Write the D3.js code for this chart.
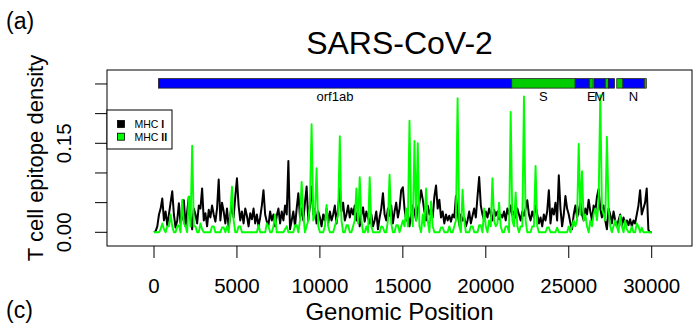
<!DOCTYPE html>
<html>
<head>
<meta charset="utf-8">
<script src="https://cdn.jsdelivr.net/npm/d3@7"></script>
<style>
  body { margin: 0; background: #fff; }
  text { font-family: "Liberation Sans", Arial, sans-serif; fill: #000; }
</style>
</head>
<body>
<div id="chart"></div>
<script>
// window start positions along the genome (bp)
const windowPos = d3.range(0, 30001, 100);

// MHC I epitope density, one value per 100 bp window
const mhc1 = [
  0.000, 0.002, 0.010, 0.030, 0.040, 0.057, 0.020, 0.035, 0.012, 0.030,
  0.050, 0.069, 0.030, 0.008, 0.020, 0.049, 0.015, 0.025, 0.054, 0.010,
  0.035, 0.060, 0.025, 0.005, 0.040, 0.030, 0.015, 0.045, 0.040, 0.074,
  0.020, 0.032, 0.010, 0.038, 0.025, 0.045, 0.030, 0.018, 0.040, 0.089,
  0.020, 0.050, 0.035, 0.015, 0.040, 0.008, 0.030, 0.045, 0.025, 0.060,
  0.091, 0.045, 0.020, 0.035, 0.015, 0.040, 0.028, 0.010, 0.032, 0.022,
  0.040, 0.015, 0.030, 0.010, 0.025, 0.045, 0.071, 0.030, 0.018, 0.012,
  0.035, 0.020, 0.030, 0.010, 0.028, 0.040, 0.015, 0.035, 0.020, 0.045,
  0.030, 0.120, 0.005, 0.020, 0.035, 0.010, 0.040, 0.066, 0.025, 0.040,
  0.020, 0.050, 0.077, 0.020, 0.045, 0.077, 0.030, 0.040, 0.015, 0.035,
  0.025, 0.010, 0.030, 0.020, 0.040, 0.015, 0.035, 0.020, 0.030, 0.045,
  0.015, 0.040, 0.074, 0.035, 0.050, 0.020, 0.030, 0.045, 0.025, 0.040,
  0.030, 0.045, 0.020, 0.035, 0.010, 0.030, 0.042, 0.018, 0.035, 0.025,
  0.015, 0.030, 0.010, 0.020, 0.035, 0.005, 0.025, 0.040, 0.066, 0.030,
  0.020, 0.040, 0.028, 0.045, 0.015, 0.035, 0.050, 0.025, 0.040, 0.071,
  0.076, 0.040, 0.020, 0.030, 0.010, 0.030, 0.045, 0.035, 0.020, 0.040,
  0.050, 0.071, 0.055, 0.035, 0.020, 0.045, 0.030, 0.040, 0.025, 0.060,
  0.079, 0.040, 0.055, 0.025, 0.035, 0.015, 0.030, 0.020, 0.028, 0.018,
  0.030, 0.025, 0.061, 0.035, 0.012, 0.030, 0.020, 0.025, 0.010, 0.020,
  0.035, 0.015, 0.028, 0.040, 0.025, 0.060, 0.093, 0.045, 0.030, 0.020,
  0.035, 0.025, 0.040, 0.030, 0.020, 0.038, 0.028, 0.035, 0.022, 0.030,
  0.025, 0.035, 0.020, 0.040, 0.030, 0.045, 0.028, 0.035, 0.025, 0.040,
  0.030, 0.020, 0.035, 0.028, 0.040, 0.054, 0.030, 0.020, 0.035, 0.025,
  0.045, 0.030, 0.015, 0.025, 0.010, 0.030, 0.020, 0.035, 0.071, 0.015,
  0.040, 0.030, 0.050, 0.020, 0.096, 0.040, 0.010, 0.030, 0.061, 0.040,
  0.030, 0.015, 0.005, 0.030, 0.045, 0.025, 0.035, 0.050, 0.030, 0.020,
  0.040, 0.030, 0.055, 0.035, 0.020, 0.045, 0.035, 0.060, 0.073, 0.040,
  0.025, 0.045, 0.020, 0.005, 0.040, 0.030, 0.015, 0.035, 0.020, 0.010,
  0.020, 0.030, 0.010, 0.025, 0.015, 0.020, 0.012, 0.022, 0.010, 0.020,
  0.015, 0.030, 0.045, 0.071, 0.030, 0.040, 0.050, 0.074, 0.004, 0.000,
  0.000
];

// MHC II epitope density, same windows
const mhc2 = [
  0, 0, 0, 0, 0.005, 0.015, 0.005, 0, 0.010, 0.010,
  0.030, 0.010, 0, 0, 0.010, 0.012, 0, 0.055, 0.015, 0.010,
  0, 0.060, 0.010, 0.146, 0.010, 0.010, 0, 0, 0.015, 0.005,
  0, 0, 0, 0, 0, 0.010, 0.010, 0, 0, 0,
  0, 0.008, 0.008, 0, 0.010, 0, 0.030, 0.077, 0.020, 0,
  0, 0.010, 0.010, 0, 0, 0, 0, 0, 0, 0,
  0, 0, 0, 0.012, 0, 0, 0, 0, 0.015, 0.010,
  0, 0, 0.010, 0.030, 0, 0, 0, 0, 0, 0.005,
  0.010, 0, 0, 0, 0, 0.012, 0.012, 0, 0.020, 0.085,
  0.030, 0, 0.010, 0.020, 0.050, 0.182, 0.020, 0.030, 0.108, 0.010,
  0, 0, 0, 0.010, 0.046, 0.010, 0, 0, 0, 0.010,
  0.020, 0.030, 0.162, 0.020, 0, 0, 0.012, 0.012, 0, 0,
  0.010, 0.020, 0.074, 0.015, 0.093, 0.020, 0, 0, 0.010, 0,
  0.093, 0.010, 0, 0, 0, 0, 0, 0.010, 0.008, 0,
  0, 0.020, 0.097, 0.015, 0, 0, 0.012, 0.012, 0, 0.010,
  0.020, 0.010, 0.040, 0.010, 0.188, 0.030, 0.010, 0.154, 0.020, 0.150,
  0.010, 0, 0.030, 0.010, 0.074, 0.020, 0, 0.052, 0.010, 0,
  0, 0, 0, 0.008, 0.008, 0, 0, 0, 0.010, 0,
  0, 0.010, 0.020, 0.226, 0.010, 0, 0.072, 0.020, 0, 0,
  0, 0.010, 0.010, 0, 0, 0, 0.012, 0.012, 0, 0.040,
  0.010, 0, 0.020, 0.010, 0.091, 0.020, 0.010, 0.015, 0.050, 0.010,
  0, 0, 0.010, 0.010, 0, 0.203, 0.020, 0.010, 0.067, 0.010,
  0, 0.010, 0.010, 0.229, 0.020, 0, 0, 0, 0.010, 0.010,
  0.112, 0.010, 0, 0, 0, 0, 0, 0.008, 0.008, 0,
  0, 0, 0, 0.008, 0, 0, 0, 0, 0, 0,
  0.010, 0, 0.010, 0.020, 0.010, 0.020, 0.149, 0.030, 0.103, 0.020,
  0.030, 0.010, 0, 0.020, 0.010, 0.030, 0.040, 0.020, 0.050, 0.231,
  0.040, 0.030, 0.020, 0.161, 0.040, 0.010, 0, 0.010, 0.020, 0.010,
  0, 0.028, 0.010, 0, 0.020, 0.005, 0, 0, 0.010, 0,
  0, 0.015, 0.010, 0, 0.008, 0, 0, 0, 0, 0,
  0
];

// genome annotation
const geneNames  = ["orf1ab", "S", "ORF3a", "E", "M", "ORF6", "ORF7a", "ORF8", "N", "ORF10"];
const geneStart  = [266, 21563, 25393, 26245, 26523, 27202, 27394, 27894, 28274, 29558];
const geneEnd    = [21555, 25384, 26220, 26472, 27191, 27387, 27759, 28259, 29533, 29674];
const geneColors = ["#0000ff", "#00cd00", "#0000ff", "#00cd00", "#0000ff", "#00cd00", "#0000ff", "#00cd00", "#0000ff", "#00cd00"];
const geneLabels = ["orf1ab", "S", "", "E", "M", "", "", "", "N", ""];

const xTicks = [0, 5000, 10000, 15000, 20000, 25000, 30000];
const yTicks = [0, 0.05, 0.10, 0.15, 0.20, 0.25];
const yTickLabels = [0, 0.15];

const seriesNames = ["MHC", "MHC"];
const seriesNum = ["I", "II"];
const seriesColors = ["#000000", "#00ff00"];

const W = 698, H = 326;
const box = {left: 107, right: 692, top: 70, bottom: 246};

const svg = d3.select("#chart").append("svg")
  .attr("width", W).attr("height", H);

const x = d3.scaleLinear().domain([0, 30000]).range([154, 651.7]);
const y = d3.scaleLinear().domain([0, 0.15]).range([232.3, 143.3]);

// panel letters and title
svg.append("text").attr("x", 6).attr("y", 29).attr("font-size", 23).text("(a)");
svg.append("text").attr("x", 6).attr("y", 318).attr("font-size", 23).text("(c)");
svg.append("text").attr("x", (box.left + box.right) / 2).attr("y", 54)
  .attr("text-anchor", "middle").attr("font-size", 32).text("SARS-CoV-2");

// series lines
const line = d3.line()
  .x((d, i) => x(windowPos[i]))
  .y(d => y(d));

svg.append("path").datum(mhc1)
  .attr("fill", "none").attr("stroke", seriesColors[0])
  .attr("stroke-width", 2).attr("stroke-linejoin", "round")
  .attr("d", line);
svg.append("path").datum(mhc2)
  .attr("fill", "none").attr("stroke", seriesColors[1])
  .attr("stroke-width", 1.9).attr("stroke-linejoin", "round")
  .attr("d", line);

// genome bar
const barTop = y(0.259), barBot = y(0.243);
const genes = geneNames.map((g, i) => ({name: g, s: geneStart[i], e: geneEnd[i], c: geneColors[i], lab: geneLabels[i]}));
svg.append("g").selectAll("rect").data(genes).enter().append("rect")
  .attr("x", d => x(d.s)).attr("width", d => x(d.e) - x(d.s))
  .attr("y", barTop).attr("height", barBot - barTop)
  .attr("fill", d => d.c).attr("stroke", "#222").attr("stroke-width", 0.8);
svg.append("g").selectAll("text").data(genes.filter(d => d.lab)).enter().append("text")
  .attr("x", d => x((d.s + d.e) / 2)).attr("y", barBot + 13)
  .attr("text-anchor", "middle").attr("font-size", 13).text(d => d.lab);

// plot box
svg.append("rect").attr("x", box.left).attr("y", box.top)
  .attr("width", box.right - box.left).attr("height", box.bottom - box.top)
  .attr("fill", "none").attr("stroke", "#000").attr("stroke-width", 1);

// x axis
const xAxis = svg.append("g");
xAxis.selectAll("line").data(xTicks).enter().append("line")
  .attr("x1", d => x(d)).attr("x2", d => x(d))
  .attr("y1", box.bottom).attr("y2", box.bottom + 12)
  .attr("stroke", "#000");
xAxis.selectAll("text").data(xTicks).enter().append("text")
  .attr("x", d => x(d)).attr("y", 293)
  .attr("text-anchor", "middle").attr("font-size", 20.5).text(d => d);
svg.append("text").attr("x", (box.left + box.right) / 2).attr("y", 320)
  .attr("text-anchor", "middle").attr("font-size", 24).text("Genomic Position");

// y axis
const yAxis = svg.append("g");
yAxis.selectAll("line").data(yTicks).enter().append("line")
  .attr("x1", box.left - 12).attr("x2", box.left)
  .attr("y1", d => y(d)).attr("y2", d => y(d))
  .attr("stroke", "#000");
yAxis.selectAll("text").data(yTickLabels).enter().append("text")
  .attr("transform", d => `translate(71,${y(d)}) rotate(-90)`)
  .attr("text-anchor", "middle").attr("font-size", 20.5).text(d => d3.format(".2f")(d));
svg.append("text")
  .attr("transform", `translate(43,${(box.top + box.bottom) / 2}) rotate(-90)`)
  .attr("text-anchor", "middle").attr("font-size", 22).text("T cell epitope density");

// legend
const leg = svg.append("g");
leg.append("rect").attr("x", box.left).attr("y", 110).attr("width", 65).attr("height", 39)
  .attr("fill", "#fff").attr("stroke", "#000");
seriesNames.forEach((n, i) => {
  leg.append("rect").attr("x", 117.5).attr("y", 120.5 + i * 12.7).attr("width", 7).attr("height", 7)
    .attr("fill", seriesColors[i]).attr("stroke", "#000").attr("stroke-width", 0.8);
  const t = leg.append("text").attr("x", 134.5).attr("y", 127.8 + i * 12.7).attr("font-size", 10.5);
  t.append("tspan").text(n + " ");
  t.append("tspan").attr("font-weight", "bold").text(seriesNum[i]);
});
</script>
</body>
</html>
